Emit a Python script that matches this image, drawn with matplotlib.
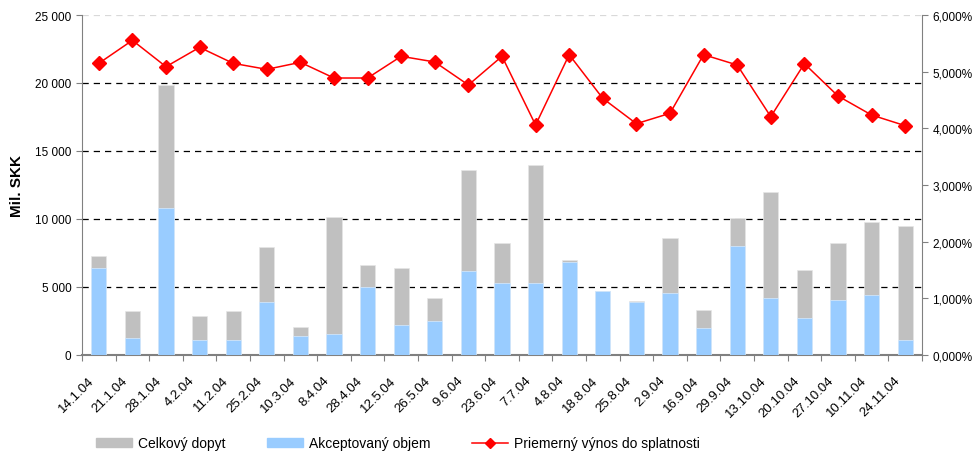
import numpy as np
import matplotlib
matplotlib.use('Agg')
import matplotlib.pyplot as plt
import matplotlib.transforms as mtransforms
from matplotlib.patches import Patch
from matplotlib.lines import Line2D
from matplotlib.ticker import FuncFormatter

plt.rcParams['font.family'] = ['Liberation Sans', 'DejaVu Sans']

# dátumy aukcií
dates = ['14.1.04', '21.1.04', '28.1.04', '4.2.04', '11.2.04', '25.2.04', '10.3.04',
         '8.4.04', '28.4.04', '12.5.04', '26.5.04', '9.6.04', '23.6.04', '7.7.04',
         '4.8.04', '18.8.04', '25.8.04', '2.9.04', '16.9.04', '29.9.04', '13.10.04',
         '20.10.04', '27.10.04', '10.11.04', '24.11.04']

# celkový dopyt (mil. SKK)
total_demand = [7250, 3260, 19880, 2840, 3260, 7920, 2080, 10170, 6620, 6420, 4170,
                13600, 8240, 13950, 6960, 4700, 3950, 8580, 3280, 10050, 12010,
                6280, 8240, 9760, 9510]
# akceptovaný objem (mil. SKK)
accepted = [6400, 1230, 10810, 1100, 1100, 3920, 1370, 1540, 5030, 2210, 2530,
            6200, 5320, 5320, 6840, 4680, 3920, 4580, 1960, 8020, 4170,
            2750, 4040, 4390, 1130]
# priemerný výnos do splatnosti (%)
avg_yield = [5.147, 5.553, 5.088, 5.429, 5.147, 5.041, 5.165, 4.888, 4.888, 5.271,
             5.171, 4.765, 5.271, 4.059, 5.300, 4.529, 4.082, 4.265, 5.300, 5.118,
             4.206, 5.141, 4.571, 4.235, 4.047]

x = np.arange(len(dates))

fig = plt.figure(figsize=(9.75, 4.52), dpi=100)
ax = fig.add_axes([0.0841, 0.2124, 0.8615, 0.7522])

# mriežka
for v in [5000, 10000, 15000, 20000]:
    ax.axhline(v, color='black', lw=0.9, ls=(0, (5, 4)), zorder=0)
ax.axhline(25000, color='#D9D9D9', lw=0.9, ls=(0, (5, 4)), zorder=0)

ax.bar(x, total_demand, width=0.45, color='#C0C0C0', edgecolor='#E6E6E6', lw=0.5, zorder=2)
ax.bar(x, accepted, width=0.45, color='#99CCFF', edgecolor='#D6EBFF', lw=0.5, zorder=3)

ax.set_xlim(-0.5, len(dates) - 0.5)
ax.set_ylim(0, 25000)
ax.set_yticks(np.arange(0, 25001, 5000))
ax.yaxis.set_major_formatter(FuncFormatter(lambda v, p: f"{v:,.0f}".replace(',', ' ')))
ax.set_ylabel('Mil. SKK', fontsize=11, fontweight='bold', labelpad=8)

# popisky osi x medzi značkami
ax.set_xticks(np.arange(len(dates) + 1) - 0.5)
ax.set_xticklabels([])
ax.set_xticks(x, minor=True)
ax.set_xticklabels(dates, minor=True, rotation=45, ha='right', va='top',
                   rotation_mode='anchor', fontsize=9.5)
ax.tick_params(axis='x', which='minor', length=0, pad=8)
ax.tick_params(axis='x', which='major', length=4, color='#808080', direction='out')
ax.tick_params(axis='y', length=4, color='#808080', labelsize=8.5)
shift = mtransforms.ScaledTranslation(-11 / 100, -8 / 100, fig.dpi_scale_trans)
for lbl in ax.get_xticklabels(minor=True):
    lbl.set_transform(lbl.get_transform() + shift)

for s in ['top', 'right']:
    ax.spines[s].set_visible(False)
ax.spines['left'].set_color('#808080')
ax.spines['bottom'].set_color('#808080')
ax.spines['bottom'].set_linewidth(1.5)

ax2 = ax.twinx()
ax2.plot(x, avg_yield, color='#FF0000', lw=1.1, marker='D', ms=7,
         markeredgecolor='#FF0000', markerfacecolor='#FF0000', zorder=5)
ax2.set_ylim(0, 6)
ax2.set_yticks(np.arange(0, 6.1, 1))
ax2.yaxis.set_major_formatter(FuncFormatter(lambda v, p: f"{v:.3f}%".replace('.', ',')))
ax2.tick_params(axis='y', length=4, color='#808080', labelsize=8.5)
for s in ['top', 'left', 'bottom']:
    ax2.spines[s].set_visible(False)
ax2.spines['right'].set_color('#808080')

handles = [Patch(color='#C0C0C0'), Patch(color='#99CCFF'),
           Line2D([], [], color='#FF0000', lw=1.1, marker='D', ms=5)]
fig.legend(handles, ['Celkový dopyt', 'Akceptovaný objem', 'Priemerný výnos do splatnosti'],
           loc='center left', bbox_to_anchor=(0.088, 0.017), ncol=3, frameon=False,
           fontsize=10, handlelength=2.6, handleheight=0.65, handletextpad=0.43,
           columnspacing=3.0, borderpad=0.2)

fig.savefig('out.png', dpi=100)
